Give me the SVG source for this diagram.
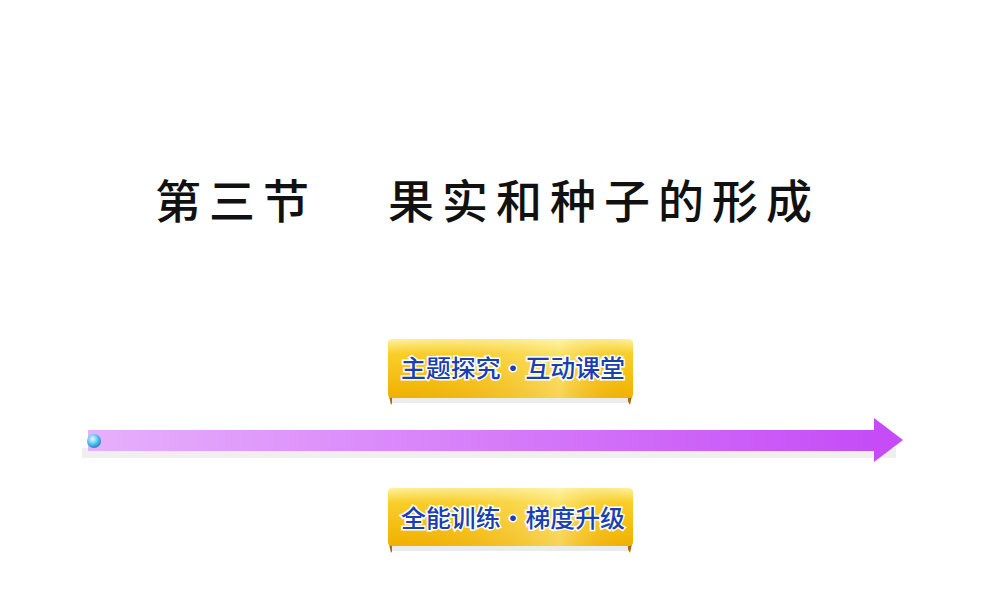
<svg xmlns="http://www.w3.org/2000/svg" width="1000" height="600" viewBox="0 0 1000 600">
<defs>
<linearGradient id="bar" x1="0" x2="1" y1="0" y2="0"><stop offset="0" stop-color="#e6b0fb"/><stop offset="1" stop-color="#c54cf7"/></linearGradient>
<linearGradient id="gold" x1="0" x2="0" y1="0" y2="1"><stop offset="0" stop-color="#fdf3a0"/><stop offset="0.25" stop-color="#f9cf2a"/><stop offset="1" stop-color="#f0b000"/></linearGradient>
<linearGradient id="gold2" x1="0" x2="1" y1="0" y2="0"><stop offset="0" stop-color="#f0b000" stop-opacity="0"/><stop offset="0.7" stop-color="#fff6b0" stop-opacity="0.5"/><stop offset="1" stop-color="#f0b000" stop-opacity="0"/></linearGradient>
<radialGradient id="ball" cx="0.4" cy="0.35" r="0.6"><stop offset="0" stop-color="#e8fbff"/><stop offset="0.6" stop-color="#5cc8f2"/><stop offset="1" stop-color="#2a8fd0"/></radialGradient>
<style>
.t{font-family:"Noto Sans CJK SC",sans-serif;font-weight:500;font-size:24px;fill:#1a3fb0;stroke:#ffffff;stroke-width:3;paint-order:stroke}
.h{font-family:"Noto Sans CJK SC",sans-serif;font-size:46px;fill:#111;font-weight:500;letter-spacing:8px}
</style>
</defs>
<text class="h" x="155" y="218">第三节<tspan x="388">果实和种子的形成</tspan></text>
<g id="arrow">
<rect x="82" y="448" width="814" height="10" fill="#efefef"/>
<rect x="88" y="430" width="790" height="21" fill="url(#bar)"/>
<polygon points="874,418 903,440 874,462" fill="#c54cf7"/>
<circle cx="94" cy="441" r="7" fill="url(#ball)"/>
</g>
<g id="banner1">
<path d="M389,396 l2,9 l4,-7 z M632,396 l-2,9 l-4,-7 z" fill="#a86a10"/>
<rect x="392" y="396" width="236" height="7" fill="#ececec"/>
<rect x="388" y="339" width="245" height="59" rx="4" fill="url(#gold)"/>
<rect x="388" y="339" width="245" height="59" rx="4" fill="url(#gold2)"/>
<text class="t" x="401" y="377" textLength="224" lengthAdjust="spacingAndGlyphs">主题探究・互动课堂</text>
</g>
<g id="banner2">
<path d="M389,544 l2,9 l4,-7 z M632,544 l-2,9 l-4,-7 z" fill="#a86a10"/>
<rect x="392" y="544" width="236" height="7" fill="#ececec"/>
<rect x="388" y="488" width="245" height="58" rx="4" fill="url(#gold)"/>
<rect x="388" y="488" width="245" height="58" rx="4" fill="url(#gold2)"/>
<text class="t" x="401" y="527" textLength="224" lengthAdjust="spacingAndGlyphs">全能训练・梯度升级</text>
</g>
</svg>
